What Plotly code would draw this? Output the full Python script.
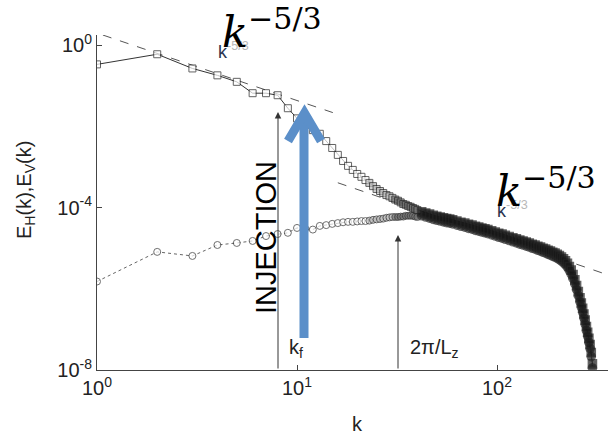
import plotly.graph_objects as go

# ---------------- data ----------------
# wavenumbers, integer range before the two spectra merge
K_LOW = list(range(1, 41))
# wavenumbers sampled along the merged band and the dissipative fall-off
K_BAND = [42, 44, 46, 48, 50, 52, 54, 56, 58, 60,
          63, 66, 69, 72, 75, 78, 81, 84, 87, 90,
          94, 98, 102, 106, 110,
          115, 120, 125, 130, 135, 140, 145, 150, 155, 160,
          165, 170, 175, 180, 185, 190, 195, 200, 205, 210,
          215, 220, 225, 230, 235, 240, 245, 250, 255, 260,
          264, 268, 272, 276, 280, 284, 288, 292, 296, 300]

# log10 of horizontal spectrum E_H(k)
EH_LOW_LOG10 = [-0.47, -0.22, -0.57, -0.74, -0.90, -1.18, -1.18, -1.23, -1.55, -1.80,
                -1.96, -2.09, -2.18, -2.36, -2.53, -2.70, -2.85, -2.97, -3.07, -3.17,
                -3.24, -3.32, -3.39, -3.47, -3.54, -3.59, -3.64, -3.69, -3.72, -3.76,
                -3.80, -3.83, -3.87, -3.91, -3.93, -3.96, -3.98, -4.01, -4.03, -4.06]
EH_BAND_LOG10 = [-4.10, -4.13, -4.16, -4.19, -4.21, -4.23, -4.25, -4.27, -4.28, -4.30,
                 -4.33, -4.36, -4.38, -4.41, -4.43, -4.46, -4.48, -4.50, -4.52, -4.54,
                 -4.57, -4.60, -4.63, -4.65, -4.68,
                 -4.71, -4.74, -4.77, -4.80, -4.82, -4.85, -4.87, -4.90, -4.92, -4.95,
                 -4.97, -5.00, -5.02, -5.05, -5.07, -5.10, -5.12, -5.15, -5.18, -5.22,
                 -5.26, -5.31, -5.37, -5.45, -5.54, -5.65, -5.78, -5.92, -6.07, -6.22,
                 -6.35, -6.48, -6.62, -6.77, -6.93, -7.07, -7.22, -7.37, -7.57, -7.85]

# log10 of vertical spectrum E_V(k)
EV_LOW_LOG10 = [-5.82, -5.09, -5.19, -4.92, -4.87, -4.82, -4.70, -4.65, -4.62, -4.50,
                -4.52, -4.54, -4.45, -4.43, -4.40, -4.38, -4.36, -4.35, -4.35, -4.34,
                -4.33, -4.33, -4.32, -4.30, -4.29, -4.28, -4.27, -4.25, -4.24, -4.23,
                -4.23, -4.23, -4.22, -4.22, -4.20, -4.20, -4.20, -4.20, -4.22, -4.23]
EV_BAND_LOG10 = [-4.20, -4.23, -4.26, -4.29, -4.31, -4.33, -4.35, -4.37, -4.38, -4.40,
                 -4.43, -4.46, -4.48, -4.51, -4.53, -4.56, -4.58, -4.60, -4.62, -4.64,
                 -4.67, -4.70, -4.73, -4.75, -4.78,
                 -4.81, -4.84, -4.87, -4.90, -4.92, -4.95, -4.97, -5.00, -5.02, -5.05,
                 -5.07, -5.10, -5.12, -5.15, -5.17, -5.20, -5.22, -5.25, -5.28, -5.32,
                 -5.36, -5.41, -5.47, -5.55, -5.64, -5.75, -5.88, -6.02, -6.17, -6.32,
                 -6.45, -6.58, -6.72, -6.87, -7.03, -7.17, -7.32, -7.47, -7.67, -7.95]

# k^-5/3 reference segments (end points)
REF1_K = [1.07, 15.1]
REF1_E = [1.79, 2.2e-2]
REF2_K = [16.0, 359.0]
REF2_E = [4.1e-4, 2.2e-6]

# tick labels
X_TICKS = [1, 10, 100]
X_TICKTEXT = ["10<sup>0</sup>", "10<sup>1</sup>", "10<sup>2</sup>"]
Y_TICKS = [1, 1e-4, 1e-8]
Y_TICKTEXT = ["10<sup>0</sup>", "10<sup>-4</sup>", "10<sup>-8</sup>"]

K = K_LOW + K_BAND
E_H = [10 ** v for v in EH_LOW_LOG10 + EH_BAND_LOG10]
E_V = [10 ** v for v in EV_LOW_LOG10 + EV_BAND_LOG10]

# marker styling: hollow for the resolved points, darker as the points pile up
EDGE_W = [1.0] * len(K_LOW) + [1.6] * len(K_BAND)
SIZE_M = [7] * len(K_LOW) + [8] * len(K_BAND)
FILL = ["white"] * 22 + ["#bdbdbd"] * 8 + ["#707070"] * 10 + ["#161616"] * len(K_BAND)

# ---------------- figure ----------------
W, H = 608, 438
ML, MR, MT, MB = 97, 0, 35, 68
PW, PH = W - ML - MR, H - MT - MB


def px(x):
    return (x - ML) / PW


def py(y):
    return (H - MB - y) / PH


FONT = "Liberation Sans, Arial, sans-serif"
BLUE = "#5b8fc9"

fig = go.Figure()

fig.add_trace(go.Scatter(x=REF1_K, y=REF1_E, mode="lines",
                         line=dict(color="#555", width=1, dash="dash"),
                         showlegend=False, hoverinfo="skip"))
fig.add_trace(go.Scatter(x=REF2_K, y=REF2_E, mode="lines",
                         line=dict(color="#555", width=1, dash="dash"),
                         showlegend=False, hoverinfo="skip"))

fig.add_trace(go.Scatter(x=K, y=E_V, mode="lines+markers", name="E_V",
                         line=dict(color="#666", width=1, dash="dot"),
                         marker=dict(symbol="circle", size=SIZE_M, color=FILL,
                                     line=dict(width=EDGE_W, color="#333")),
                         showlegend=False))
fig.add_trace(go.Scatter(x=K, y=E_H, mode="lines+markers", name="E_H",
                         line=dict(color="#333", width=1),
                         marker=dict(symbol="square", size=SIZE_M, color=FILL,
                                     line=dict(width=EDGE_W, color="#222")),
                         showlegend=False))

annotations = []


def label(x, y, text, size=20, color="#222", family=FONT, angle=0, xa="center", ya="middle"):
    annotations.append(dict(xref="paper", yref="paper", x=px(x), y=py(y), text=text,
                            textangle=angle, showarrow=False, xanchor=xa, yanchor=ya,
                            font=dict(family=family, size=size, color=color)))


# axis titles
label(25, 190, "E<sub>H</sub>(k),E<sub>V</sub>(k)", size=20, angle=-90)
label(357, 424, "k", size=20)

# thin arrows for k_f and 2pi/Lz
annotations.append(dict(xref="paper", yref="paper", x=px(278), y=py(112),
                        ax=0, ay=258, text="", showarrow=True, arrowhead=2,
                        arrowsize=1.3, arrowwidth=1, arrowcolor="#333", standoff=0))
annotations.append(dict(xref="paper", yref="paper", x=px(398), y=py(235),
                        ax=0, ay=135, text="", showarrow=True, arrowhead=2,
                        arrowsize=1.3, arrowwidth=1, arrowcolor="#333", standoff=0))
label(296, 348, "k<sub>f</sub>", size=20)
label(434, 348, "2π/L<sub>z</sub>", size=20)

# small original k^-5/3 labels (superscripts mostly masked in the reference)
label(216, 50, "k<sup><span style='color:#b8b8b8'>-5/3</span></sup>", size=18,
      color="#2b3550", xa="left")
label(495, 209, "k<sup><span style='color:#b8b8b8'>-5/3</span></sup>", size=18,
      color="#2b3550", xa="left")

# big k^-5/3 labels
label(220, 29, "<i>k</i><sup>−5/3</sup>", size=43, color="#000",
      family="DejaVu Serif, serif", xa="left")
label(494, 188, "<i>k</i><sup>−5/3</sup>", size=43, color="#000",
      family="DejaVu Serif, serif", xa="left")

# INJECTION
label(266, 238, "INJECTION", size=29, color="#000", angle=-90)

shapes = [
    dict(type="line", xref="paper", yref="paper",
         x0=px(304), y0=py(338), x1=px(304), y1=py(114),
         line=dict(color=BLUE, width=9)),
    dict(type="path", xref="paper", yref="paper",
         path=f"M {px(288)},{py(141)} L {px(304.5)},{py(113)} L {px(321)},{py(141)}",
         line=dict(color=BLUE, width=9)),
]

fig.update_layout(
    width=W, height=H, autosize=False,
    margin=dict(l=ML, r=MR, t=MT, b=MB, pad=0),
    paper_bgcolor="white", plot_bgcolor="white",
    showlegend=False,
    annotations=annotations, shapes=shapes,
    xaxis=dict(type="log", range=[0, 2.555], showgrid=False, zeroline=False,
               showline=True, linecolor="#444", linewidth=1,
               ticks="inside", ticklen=5, tickcolor="#444",
               tickvals=X_TICKS, ticktext=X_TICKTEXT,
               tickfont=dict(family=FONT, size=20, color="#222")),
    yaxis=dict(type="log", range=[-8, 0.254], showgrid=False, zeroline=False,
               showline=True, linecolor="#444", linewidth=1,
               ticks="inside", ticklen=5, tickcolor="#444",
               tickvals=Y_TICKS, ticktext=Y_TICKTEXT,
               tickfont=dict(family=FONT, size=20, color="#222")),
)

fig.write_html("out.html")
